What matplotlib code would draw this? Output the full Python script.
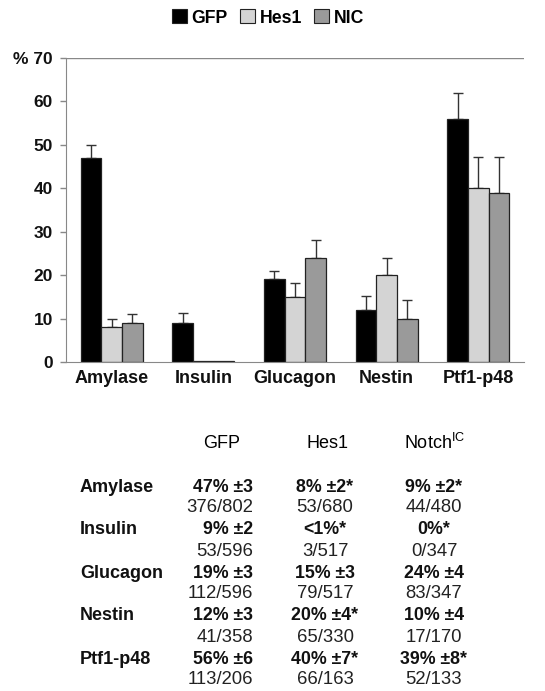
import numpy as np
import matplotlib.pyplot as plt
from matplotlib.patches import Patch

plt.rcParams['font.family'] = ['Liberation Sans', 'DejaVu Sans']

markers = ['Amylase', 'Insulin', 'Glucagon', 'Nestin', 'Ptf1-p48']
series = ['GFP', 'Hes1', 'NIC']
gfp = [47, 9, 19, 12, 56]
hes1 = [8, 0.3, 15, 20, 40]
nic = [9, 0.3, 24, 10, 39]
gfp_err = [3, 2.3, 2, 3.3, 6]
hes1_err = [2, 0, 3.2, 4, 7.3]
nic_err = [2, 0, 4.2, 4.3, 8.3]
colors = ['#000000', '#d4d4d4', '#9a9a9a']

# table below the chart
tab_cols = ['GFP', 'Hes1', 'Notch$^{\\mathregular{IC}}$']
tab_pct = [['47% ±3', '8% ±2*', '9% ±2*'],
           ['9% ±2', '<1%*', '0%*'],
           ['19% ±3', '15% ±3', '24% ±4'],
           ['12% ±3', '20% ±4*', '10% ±4'],
           ['56% ±6', '40% ±7*', '39% ±8*']]
tab_n = [['376/802', '53/680', '44/480'],
         ['53/596', '3/517', '0/347'],
         ['112/596', '79/517', '83/347'],
         ['41/358', '65/330', '17/170'],
         ['113/206', '66/163', '52/133']]

W, H = 545, 691
fig = plt.figure(figsize=(W / 100, H / 100), dpi=100)
ax = fig.add_axes([66 / W, 1 - 362 / H, 458 / W, 304 / H])

x = np.arange(len(markers))
w = 0.225
vals = [gfp, hes1, nic]
errs = [gfp_err, hes1_err, nic_err]
for i in range(3):
    xs = x + (i - 1) * w
    ax.bar(xs, vals[i], w, color=colors[i], edgecolor='#222222', linewidth=0.9, zorder=2)
    e = np.array(errs[i])
    m = e > 0
    ax.errorbar(xs[m], np.array(vals[i])[m], yerr=[np.zeros(m.sum()), e[m]], fmt='none',
                ecolor='#333333', elinewidth=1, capsize=3.6, capthick=1, zorder=1)

ax.set_xlim(-0.5, 4.5)
ax.set_ylim(0, 70)
ax.axhline(70, color='#888888', lw=1, zorder=0)
ax.set_yticks(range(0, 80, 10))
ax.set_yticklabels([str(v) for v in range(0, 70, 10)] + ['% 70'])
ax.set_xticks(x)
ax.set_xticklabels(markers)
for s in ['top', 'right']:
    ax.spines[s].set_visible(False)
for s in ['left', 'bottom']:
    ax.spines[s].set_color('#888888')
ax.tick_params(axis='y', length=4.3, color='#888888', pad=5, labelsize=12.5, width=1)
ax.tick_params(axis='x', length=0, pad=6, labelsize=13)
for t in ax.get_xticklabels() + ax.get_yticklabels():
    t.set_fontweight('bold')
    t.set_color('#111111')

handles = [Patch(facecolor=c, edgecolor='#222222', linewidth=0.8) for c in colors]
fig.legend(handles, series, loc='center', bbox_to_anchor=(268 / W, 1 - 18 / H), ncol=3,
           frameon=False, handlelength=0.85, handleheight=0.85, handletextpad=0.25,
           columnspacing=0.7, prop={'weight': 'bold', 'size': 12.7})

# table
col_x = [253, 325, 434]
col_ha = ['right', 'center', 'center']
hdr_x = [222, 327, 435]
for j, c in enumerate(tab_cols):
    fig.text(hdr_x[j] / W, 1 - 443 / H, c, ha='center', va='center', fontsize=13, color='#000000')
for r, name in enumerate(markers):
    y0 = 487 + r * 43
    fig.text(80 / W, 1 - y0 / H, name, ha='left', va='center', fontsize=13,
             fontweight='bold', color='#111111')
    for j in range(3):
        fig.text(col_x[j] / W, 1 - y0 / H, tab_pct[r][j], ha=col_ha[j], va='center',
                 fontsize=12.8, fontweight='bold', color='#111111')
        fig.text(col_x[j] / W, 1 - (y0 + 21) / H, tab_n[r][j], ha=col_ha[j], va='center',
                 fontsize=13.3, color='#222222')

fig.savefig('out.png', dpi=100)
